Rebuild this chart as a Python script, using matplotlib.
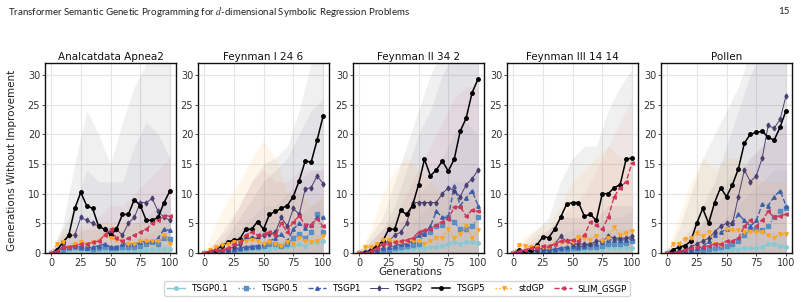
import numpy as np
import matplotlib
matplotlib.use('Agg')
import matplotlib.pyplot as plt

plt.rcParams['mathtext.fontset'] = 'stix'

# Daten (Mittelwerte alle 5 Generationen, Bänder alle 10 Generationen)
gens = np.arange(0, 101, 5)
gens_band = np.arange(0, 101, 10)

datasets = ["Analcatdata Apnea2", "Feynman I 24 6", "Feynman II 34 2",
            "Feynman III 14 14", "Pollen"]
methods = ["TSGP0.1", "TSGP0.5", "TSGP1", "TSGP2", "TSGP5", "stdGP", "SLIM_GSGP"]

# --- Analcatdata Apnea2
apnea_mean = {
    "TSGP0.1": [0, 0.1, 0.3, 0.4, 0.5, 0.5, 0.4, 0.4, 0.5, 0.5, 0.4, 0.4, 0.5, 0.5, 0.4, 0.5, 0.5, 0.6, 0.6, 0.6, 0.6],
    "TSGP0.5": [0, 0.2, 0.5, 0.8, 1.0, 0.8, 0.8, 0.6, 0.8, 1.0, 0.8, 0.8, 1.0, 1.0, 1.0, 1.2, 1.5, 1.8, 1.5, 2.5, 2.3],
    "TSGP1": [0, 0.3, 1.0, 1.0, 1.2, 1.0, 0.8, 1.0, 1.2, 1.5, 1.0, 1.0, 1.5, 1.5, 1.5, 1.8, 2.0, 2.0, 2.5, 4.0, 3.8],
    "TSGP2": [0, 0.5, 1.5, 3.0, 3.0, 6.0, 5.5, 5.0, 4.5, 4.0, 3.5, 4.0, 3.0, 5.0, 6.0, 8.5, 8.5, 9.2, 7.0, 6.0, 5.5],
    "TSGP5": [0, 0.5, 1.8, 3.0, 7.5, 10.2, 8.0, 7.5, 4.5, 4.0, 3.0, 4.0, 6.5, 6.5, 9.0, 8.0, 5.5, 5.5, 6.0, 8.5, 10.5],
    "stdGP": [0, 1.5, 1.8, 1.0, 1.5, 1.8, 1.5, 1.8, 2.0, 3.0, 2.5, 2.2, 2.0, 1.5, 1.5, 2.0, 2.0, 2.0, 2.0, 3.0, 1.5],
    "SLIM_GSGP": [0, 0.3, 1.0, 1.0, 1.2, 1.5, 1.5, 1.8, 2.0, 3.0, 4.0, 2.5, 2.0, 2.5, 3.0, 3.5, 4.0, 5.0, 5.5, 6.2, 6.3],
}
apnea_upper = {
    "TSGP0.1": [0, 1, 1, 1.2, 1.2, 1.2, 1.2, 1.5, 1.5, 1.5, 1.5],
    "TSGP0.5": [0, 1.5, 2, 2, 2, 2, 2.5, 2.5, 3, 4, 5],
    "TSGP1": [0, 2, 3, 4, 4, 4, 4, 5, 6, 8, 9],
    "TSGP2": [0, 4, 8, 14, 12, 12, 12, 18, 22, 20, 16],
    "TSGP5": [0, 5, 15, 24, 20, 15, 22, 28, 32, 34, 34],
    "stdGP": [0, 4, 4, 4, 5, 5, 5, 5, 5, 6, 5],
    "SLIM_GSGP": [0, 3, 4, 5, 6, 8, 8, 10, 12, 14, 16],
}

# --- Feynman I 24 6
fey1_mean = {
    "TSGP0.1": [0, 0, 0.1, 0.2, 0.3, 0.3, 0.4, 0.5, 0.5, 0.6, 0.6, 0.7, 0.8, 1.0, 1.0, 1.2, 1.5, 1.2, 1.8, 1.8, 2.0],
    "TSGP0.5": [0, 0, 0.1, 0.2, 0.3, 0.5, 0.6, 0.8, 1.0, 1.0, 1.2, 1.5, 1.5, 1.2, 1.5, 2.5, 3.2, 2.5, 3.5, 6.5, 3.5],
    "TSGP1": [0, 0, 0.2, 0.3, 0.5, 0.7, 0.8, 1.0, 1.0, 1.2, 1.5, 2.0, 2.5, 3.2, 2.0, 4.0, 5.0, 4.2, 4.8, 6.0, 6.0],
    "TSGP2": [0, 0.1, 0.3, 0.5, 0.7, 1.0, 1.5, 2.5, 2.5, 2.5, 3.0, 3.2, 3.5, 6.0, 4.5, 7.5, 6.5, 10.8, 11.0, 13.0, 11.7],
    "TSGP5": [0, 0.2, 0.5, 1.2, 1.8, 2.2, 2.3, 4.0, 4.0, 5.3, 4.0, 6.5, 7.0, 7.5, 8.0, 9.5, 12.2, 15.5, 15.3, 19.0, 23.0],
    "stdGP": [0, 0.5, 1.0, 1.3, 1.5, 1.8, 1.8, 2.0, 2.2, 2.0, 1.5, 1.8, 1.5, 1.2, 1.8, 1.5, 2.5, 2.0, 1.8, 2.0, 2.8],
    "SLIM_GSGP": [0, 0.3, 0.5, 0.5, 0.8, 1.5, 1.8, 3.0, 3.5, 3.0, 3.2, 3.5, 3.0, 5.0, 3.5, 5.3, 6.2, 4.8, 4.8, 5.8, 4.5],
}
fey1_upper = {
    "TSGP0.1": [0, 0.5, 1, 1, 1.5, 2, 2, 2.5, 3, 3, 3],
    "TSGP0.5": [0, 1, 1, 2, 3, 4, 4, 5, 6, 8, 9],
    "TSGP1": [0, 1, 2, 4, 6, 8, 8, 10, 12, 14, 14],
    "TSGP2": [0, 1, 3, 6, 9, 12, 14, 16, 20, 24, 26],
    "TSGP5": [0, 2, 5, 8, 12, 15, 16, 18, 24, 32, 34],
    "stdGP": [0, 5, 9, 12, 16, 19, 16, 10, 10, 8, 10],
    "SLIM_GSGP": [0, 2, 4, 8, 12, 14, 12, 12, 14, 14, 14],
}

# --- Feynman II 34 2
fey2_mean = {
    "TSGP0.1": [0, 0, 0, 0.1, 0.2, 0.3, 0.4, 0.5, 0.6, 0.6, 0.8, 0.8, 1.0, 1.0, 1.2, 1.5, 1.8, 1.6, 1.8, 1.8, 1.7],
    "TSGP0.5": [0, 0, 0.1, 0.2, 0.5, 0.5, 0.8, 1.0, 1.2, 1.3, 1.5, 3.3, 3.5, 4.5, 4.8, 6.0, 5.2, 4.0, 4.0, 4.5, 6.0],
    "TSGP1": [0, 0, 0.2, 0.5, 0.8, 1.0, 1.2, 1.5, 1.5, 2.0, 3.0, 3.2, 4.5, 7.0, 6.0, 6.0, 11.3, 8.0, 9.3, 10.5, 8.0],
    "TSGP2": [0, 0.2, 0.5, 1.0, 1.5, 2.0, 3.0, 3.5, 5.0, 8.5, 8.5, 8.5, 8.5, 8.5, 10.0, 11.0, 10.5, 9.5, 11.5, 12.5, 14.0],
    "TSGP5": [0, 0, 0.5, 1.2, 2.0, 4.0, 4.0, 7.2, 6.5, 8.0, 11.5, 15.8, 13.0, 14.0, 15.5, 13.8, 15.8, 20.5, 22.7, 27.0, 29.3],
    "stdGP": [0, 1.0, 1.0, 1.5, 2.2, 2.2, 1.8, 1.8, 2.0, 2.0, 2.0, 1.5, 2.0, 2.5, 2.5, 4.0, 2.5, 3.2, 4.5, 2.5, 3.8],
    "SLIM_GSGP": [0, 0, 0.3, 0.8, 1.5, 1.5, 1.8, 2.0, 2.2, 2.5, 3.5, 3.8, 4.0, 4.8, 5.3, 5.8, 7.7, 7.8, 6.2, 7.2, 7.0],
}
fey2_upper = {
    "TSGP0.1": [0, 0.5, 1, 1.5, 2, 2.5, 3, 3.5, 4, 4, 4],
    "TSGP0.5": [0, 0.5, 1, 2, 4, 6, 8, 10, 12, 12, 14],
    "TSGP1": [0, 1, 2, 4, 6, 10, 12, 16, 20, 22, 20],
    "TSGP2": [0, 2, 4, 8, 14, 20, 24, 30, 34, 34, 34],
    "TSGP5": [0, 3, 6, 12, 18, 24, 30, 34, 34, 34, 34],
    "stdGP": [0, 4, 10, 14, 16, 14, 12, 10, 10, 10, 10],
    "SLIM_GSGP": [0, 2, 4, 6, 10, 14, 18, 22, 26, 28, 28],
}

# --- Feynman III 14 14
fey3_mean = {
    "TSGP0.1": [0, 0, 0.1, 0.1, 0.2, 0.2, 0.3, 0.3, 0.4, 0.4, 0.5, 0.5, 0.5, 0.6, 0.6, 0.7, 0.8, 0.8, 0.8, 0.9, 0.9],
    "TSGP0.5": [0, 0, 0.1, 0.2, 0.3, 0.3, 0.4, 0.5, 0.6, 0.7, 0.8, 0.8, 1.0, 1.0, 1.0, 1.2, 1.5, 1.5, 1.5, 1.7, 2.0],
    "TSGP1": [0, 0, 0.1, 0.2, 0.3, 0.4, 0.5, 0.6, 0.8, 1.0, 1.2, 1.0, 1.2, 1.5, 1.5, 1.8, 2.2, 2.2, 2.2, 2.2, 2.5],
    "TSGP2": [0, 0, 0.2, 0.3, 0.5, 0.8, 1.0, 1.5, 2.8, 2.0, 1.5, 1.5, 1.5, 1.5, 2.0, 2.0, 2.8, 2.5, 2.5, 2.5, 2.8],
    "TSGP5": [0, 0.5, 0.3, 0.5, 1.3, 2.7, 2.6, 4.0, 6.0, 8.2, 8.5, 8.5, 6.2, 6.5, 5.5, 10.0, 10.0, 11.0, 11.5, 15.8, 16.0],
    "stdGP": [0, 1.3, 1.2, 1.0, 1.0, 1.0, 1.0, 1.5, 1.8, 1.8, 1.8, 2.7, 2.5, 2.2, 2.8, 2.0, 2.5, 4.4, 3.0, 3.3, 3.7],
    "SLIM_GSGP": [0, 0.3, 0.5, 0.8, 0.8, 1.2, 1.2, 1.5, 2.0, 2.0, 2.2, 2.0, 3.0, 5.2, 4.8, 4.0, 6.0, 9.5, 11.0, 12.0, 15.2],
}
fey3_upper = {
    "TSGP0.1": [0, 0.3, 0.5, 1, 1, 1.2, 1.5, 1.5, 2, 2, 2],
    "TSGP0.5": [0, 0.5, 1, 1.5, 2, 2.5, 3, 3, 4, 4, 4],
    "TSGP1": [0, 0.5, 1, 2, 3, 4, 4, 5, 6, 6, 7],
    "TSGP2": [0, 1, 2, 4, 6, 6, 6, 6, 8, 8, 8],
    "TSGP5": [0, 2, 4, 6, 12, 16, 18, 18, 24, 28, 31],
    "stdGP": [0, 3, 4, 5, 8, 12, 14, 16, 18, 16, 16],
    "SLIM_GSGP": [0, 1, 3, 4, 6, 8, 10, 14, 18, 22, 26],
}

# --- Pollen
pollen_mean = {
    "TSGP0.1": [0, 0, 0.1, 0.2, 0.3, 0.3, 0.4, 0.4, 0.5, 0.5, 0.6, 0.6, 0.7, 0.8, 0.8, 0.8, 1.0, 1.5, 1.6, 1.2, 1.0],
    "TSGP0.5": [0, 0, 0.1, 0.2, 0.3, 0.4, 0.5, 0.6, 0.8, 1.0, 1.2, 1.5, 2.0, 3.0, 4.0, 4.0, 3.8, 4.5, 6.0, 7.0, 7.5],
    "TSGP1": [0, 0, 0.2, 0.3, 0.5, 0.8, 1.0, 2.0, 3.0, 3.5, 4.0, 5.0, 6.5, 5.5, 4.5, 5.5, 8.2, 8.0, 9.5, 10.5, 8.0],
    "TSGP2": [0, 0, 0.3, 0.5, 1.0, 1.5, 2.0, 2.5, 3.5, 4.5, 5.0, 5.0, 9.5, 14.0, 12.0, 13.0, 16.0, 21.5, 21.0, 22.5, 26.5],
    "TSGP5": [0, 0.5, 1.0, 1.2, 2.0, 5.0, 7.5, 5.0, 8.5, 11.0, 9.5, 11.5, 14.2, 18.5, 20.0, 20.3, 20.5, 19.5, 19.0, 21.2, 24.0],
    "stdGP": [0, 1.5, 1.6, 2.3, 2.5, 3.3, 2.8, 3.5, 1.5, 1.3, 4.0, 3.8, 3.8, 3.5, 3.5, 3.5, 3.5, 3.0, 2.5, 3.2, 3.2],
    "SLIM_GSGP": [0, 0, 0.2, 0.5, 0.8, 1.0, 1.0, 1.2, 1.5, 1.5, 2.0, 2.0, 2.5, 4.5, 5.5, 4.5, 5.5, 7.0, 6.0, 6.3, 6.5],
}
pollen_upper = {
    "TSGP0.1": [0, 0.5, 1, 1.5, 2, 2, 3, 3, 3.5, 3.5, 3.5],
    "TSGP0.5": [0, 0.5, 1, 2, 4, 6, 8, 10, 12, 14, 14],
    "TSGP1": [0, 1, 3, 5, 8, 12, 14, 16, 18, 20, 22],
    "TSGP2": [0, 2, 4, 8, 12, 18, 24, 30, 34, 34, 34],
    "TSGP5": [0, 4, 10, 16, 20, 24, 28, 34, 34, 34, 34],
    "stdGP": [0, 6, 12, 16, 14, 16, 16, 14, 12, 12, 12],
    "SLIM_GSGP": [0, 1, 3, 5, 8, 10, 12, 16, 18, 20, 22],
}

all_mean = [apnea_mean, fey1_mean, fey2_mean, fey3_mean, pollen_mean]
all_upper = [apnea_upper, fey1_upper, fey2_upper, fey3_upper, pollen_upper]

# Stil pro Methode
colors = {"TSGP0.1": "#86cad3", "TSGP0.5": "#5b8ec2", "TSGP1": "#3d5ea8",
          "TSGP2": "#4b4170", "TSGP5": "#000000", "stdGP": "#ffa51f",
          "SLIM_GSGP": "#d0355a"}
styles = {"TSGP0.1": "-", "TSGP0.5": ":", "TSGP1": "--", "TSGP2": "-",
          "TSGP5": "-", "stdGP": ":", "SLIM_GSGP": "--"}
markers = {"TSGP0.1": "o", "TSGP0.5": "s", "TSGP1": "^", "TSGP2": "d",
           "TSGP5": "o", "stdGP": "v", "SLIM_GSGP": "<"}
widths = {"TSGP0.1": 1.0, "TSGP0.5": 1.0, "TSGP1": 1.0, "TSGP2": 0.7,
          "TSGP5": 1.1, "stdGP": 1.0, "SLIM_GSGP": 1.0}
band_alpha = {"TSGP0.1": 0.1, "TSGP0.5": 0.07, "TSGP1": 0.06, "TSGP2": 0.07,
              "TSGP5": 0.06, "stdGP": 0.09, "SLIM_GSGP": 0.06}

fig = plt.figure(figsize=(8.01, 3.02), dpi=100)
W, H = 801.0, 302.0

fig.text(8 / W, 1 - 12 / H, "Transformer Semantic Genetic Programming for $d$-dimensional Symbolic Regression Problems",
         family="Lato", fontsize=7.0, va="center", ha="left", color="#222222")
fig.text(790 / W, 1 - 12 / H, "15", family="Lato", fontsize=7.0,
         va="center", ha="right", color="#222222")

lefts = [45, 198, 353, 507, 661]
axes = []
for k, name in enumerate(datasets):
    ax = fig.add_axes([lefts[k] / W, 49 / H, 131 / W, 190 / H])
    axes.append(ax)
    ax.set_facecolor("white")
    ax.grid(True, color="#e6e6e6", linewidth=0.8)
    ax.set_axisbelow(True)
    for m in methods:
        ax.fill_between(gens_band, 0, all_upper[k][m], color=colors[m],
                        alpha=band_alpha[m], linewidth=0)
    for m in methods:
        ax.plot(gens, all_mean[k][m], linestyle=styles[m], color=colors[m],
                marker=markers[m], markersize=2.5, linewidth=widths[m], label=m)
    ax.set_xlim(-5, 105)
    ax.set_ylim(0, 32)
    ax.set_xticks([0, 25, 50, 75, 100])
    ax.set_yticks([0, 5, 10, 15, 20, 25, 30])
    ax.tick_params(labelsize=7, length=2, width=0.6, pad=1.5, colors="#333333")
    for s in ax.spines.values():
        s.set_color("#111111")
        s.set_linewidth(1.0)
    ax.set_title(name, fontsize=7.5, pad=2, color="#111111")

fig.text(12 / W, 1 - 160 / H, "Generations Without Improvement", rotation=90,
         fontsize=7.5, va="center", ha="center", color="#222222")
fig.text(410 / W, 1 - 272 / H, "Generations", fontsize=7.5, va="center",
         ha="center", color="#222222")

handles, labels = axes[0].get_legend_handles_labels()
fig.legend(handles, labels, loc="center", bbox_to_anchor=(397 / W, 1 - 288.5 / H),
           ncol=7, fontsize=6.3, frameon=True, handlelength=2.0,
           columnspacing=1.15, handletextpad=0.7, borderpad=0.35,
           edgecolor="#cccccc", fancybox=True)

fig.savefig("out.png", dpi=100)
